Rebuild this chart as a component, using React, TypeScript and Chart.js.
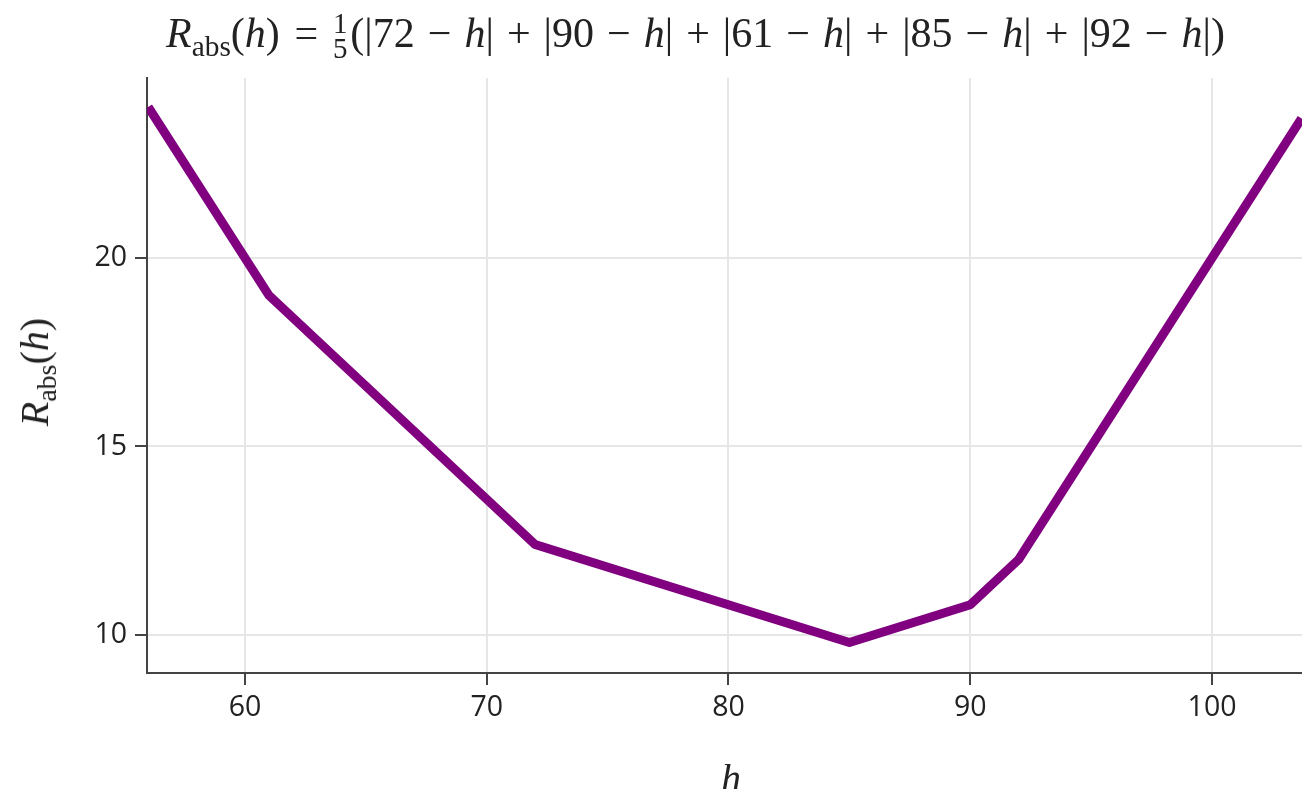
import React, { useEffect, useRef } from "react";
import { Chart, registerables } from "chart.js";

Chart.register(...registerables);

// Kink points of the curve (h, R_abs(h))
const hValues = [56, 61, 72, 85, 90, 92, 103.7];
const rValues = [24, 19, 12.4, 9.8, 10.8, 12, 23.7];
// Terms shown in the title formula
const titleTerms = ["72", "90", "61", "85", "92"];
// Axis settings
const xRange = [55.95, 103.72];
const yRange = [8.99, 24.77];
const xStep = 10;
const yStep = 5;

const serif = '"Liberation Serif", "DejaVu Serif", serif';

function Op({ children }: { children: React.ReactNode }) {
  return <span style={{ margin: "0 0.31em" }}>{children}</span>;
}

function Title() {
  const parts: React.ReactNode[] = [];
  titleTerms.forEach((t, i) => {
    if (i > 0) parts.push(<Op key={"p" + i}>+</Op>);
    parts.push(
      <span key={"t" + i}>
        |{t}
        <Op>−</Op>
        <i>h</i>|
      </span>
    );
  });
  return (
    <div
      style={{
        position: "absolute",
        left: 166,
        top: 9,
        font: `42px ${serif}`,
        lineHeight: "48px",
        whiteSpace: "nowrap",
        color: "#222",
      }}
    >
      <i>R</i>
      <span style={{ fontSize: "0.7em", position: "relative", top: "0.3em" }}>abs</span>
      (<i>h</i>)
      <span style={{ margin: "0 0.35em" }}>=</span>
      <span
        style={{
          display: "inline-flex",
          flexDirection: "column",
          alignItems: "center",
          fontSize: "29px",
          lineHeight: "25px",
          verticalAlign: "baseline",
          marginRight: "0.1em",
          position: "relative",
          top: "-14px",
        }}
      >
        <span>1</span>
        <span>5</span>
      </span>
      ({parts})
    </div>
  );
}

export default function App() {
  const ref = useRef<HTMLCanvasElement | null>(null);

  useEffect(() => {
    document.body.style.margin = "0";
    if (!ref.current) return;
    const tickFont = { family: '"Open Sans", sans-serif', size: 28.5 };
    const chart = new Chart(ref.current, {
      type: "line",
      data: {
        datasets: [
          {
            data: hValues.map((h, i) => ({ x: h, y: rValues[i] })),
            borderColor: "#800080",
            borderWidth: 9,
            pointRadius: 0,
            tension: 0,
            borderJoinStyle: "round",
            borderCapStyle: "butt",
            fill: false,
          },
        ],
      },
      options: {
        animation: false,
        responsive: false,
        maintainAspectRatio: false,
        devicePixelRatio: 1,
        layout: { padding: { top: 78, left: 0, right: 0, bottom: 0 } },
        plugins: { legend: { display: false }, tooltip: { enabled: false }, title: { display: false } },
        scales: {
          x: {
            type: "linear",
            min: xRange[0],
            max: xRange[1],
            ticks: { stepSize: xStep, includeBounds: false, font: tickFont, color: "#222", padding: 6, maxRotation: 0 },
            grid: { color: "#e6e6e6", lineWidth: 2, tickLength: 12, tickColor: "#444", tickWidth: 2 },
            border: { color: "#444", width: 2 },
            afterFit: (s: any) => {
              s.height = 116;
            },
          },
          y: {
            type: "linear",
            min: yRange[0],
            max: yRange[1],
            ticks: { stepSize: yStep, includeBounds: false, font: tickFont, color: "#222", padding: 8 },
            grid: { color: "#e6e6e6", lineWidth: 2, tickLength: 12, tickColor: "#444", tickWidth: 2 },
            border: { color: "#444", width: 2 },
            afterFit: (s: any) => {
              s.width = 147;
            },
          },
        },
      },
    });
    return () => chart.destroy();
  }, []);

  return (
    <div style={{ position: "absolute", left: 0, top: 0, width: 1302, height: 789, background: "#fff", overflow: "hidden" }}>
      <canvas ref={ref} width={1302} height={789} style={{ position: "absolute", left: 0, top: 0 }} />
      <Title />
      <div
        style={{
          position: "absolute",
          left: 37,
          top: 372,
          transform: "translate(-50%, -50%) rotate(-90deg)",
          font: `40px ${serif}`,
          lineHeight: "48px",
          whiteSpace: "nowrap",
          color: "#222",
        }}
      >
        <i>R</i>
        <span style={{ fontSize: "0.7em", position: "relative", top: "0.3em" }}>abs</span>(<i>h</i>)
      </div>
      <div
        style={{
          position: "absolute",
          left: 731,
          top: 759,
          transform: "translateX(-50%)",
          font: `italic 40px ${serif}`,
          lineHeight: "40px",
          color: "#222",
        }}
      >
        h
      </div>
    </div>
  );
}
